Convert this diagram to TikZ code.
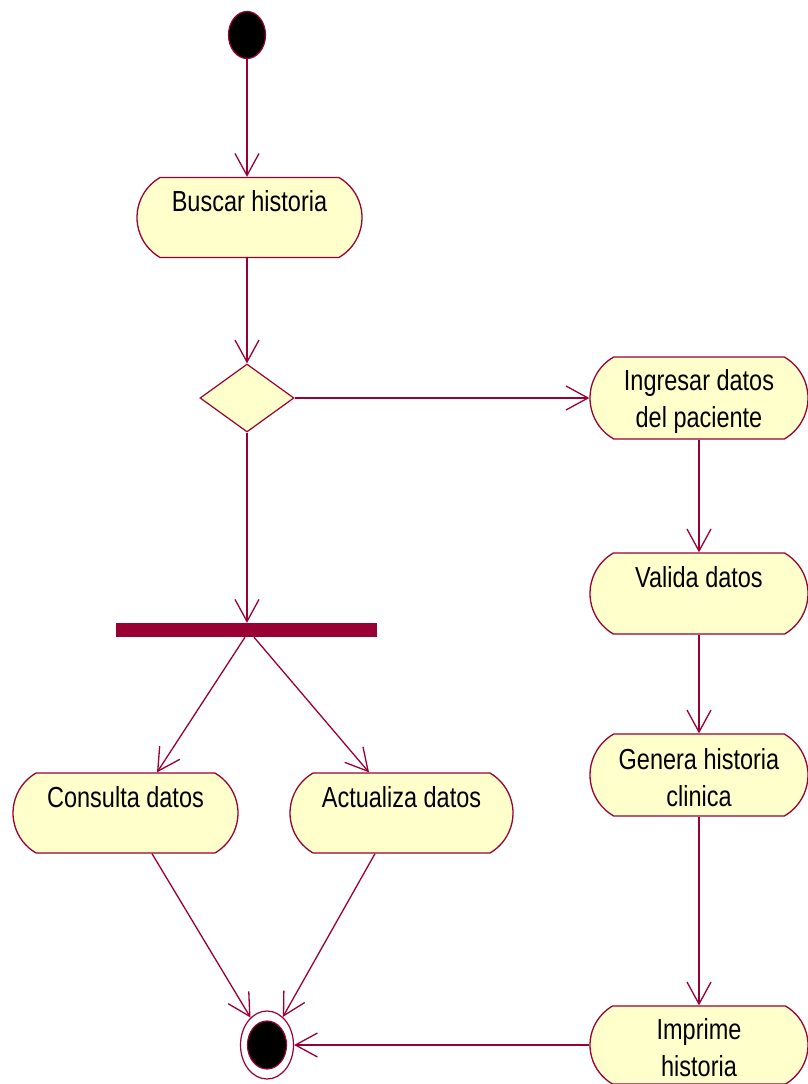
\documentclass[tikz,border=0pt]{standalone}
\usepackage{fontspec}
\setmainfont{Liberation Sans}[FakeStretch=0.81]
\usetikzlibrary{arrows.meta,shapes.geometric,shapes.misc}
\definecolor{crim}{RGB}{153,0,51}
\definecolor{cream}{RGB}{255,255,204}
% line struts that set the two text rows of an activity
\newcommand\toprow{\rule{0pt}{28pt}}
\newcommand\botrow{\rule[-3pt]{0pt}{3pt}}
\begin{document}
\begin{tikzpicture}[x=1pt,y=-1pt,
  act/.style={rounded rectangle, rounded rectangle arc length=120,
    draw=crim, fill=cream, line width=1.3pt,
    minimum width=#1, minimum height=80pt, inner sep=0pt, align=center,
    font=\fontsize{29}{37}\selectfont},
  arr/.style={draw=crim, line width=1.3pt, -{Straight Barb[length=22pt,width=24pt]}},
  bar/.style={fill=crim, draw=none, minimum width=261pt, minimum height=14pt, inner sep=0pt},
  dot/.style={ellipse, fill=black, draw=crim, line width=1.2pt, inner sep=0pt}]
\useasboundingbox (0,0) rectangle (808,1084);

% start and end
\node[dot, minimum width=37pt, minimum height=47pt] (init) at (247,35) {};
\node[ellipse, draw=crim, fill=white, line width=1.2pt, inner sep=0pt,
      minimum width=53pt, minimum height=68pt] (final) at (267,1045) {};
\node[dot, minimum width=39pt, minimum height=48pt] (finaldot) at (final) {};

% activities
\node[act=225pt] (buscar) at (249.5,217.5) {\toprow Buscar historia\\\botrow};
\node[diamond, draw=crim, fill=cream, line width=1.2pt, inner sep=0pt,
      minimum width=94pt, minimum height=68pt] (decision) at (247,398) {};
\node[act=218pt, minimum height=82pt] (ingresar) at (699,398) {\toprow Ingresar datos\\\botrow del paciente};
\node[bar] (fork) at (246.5,630) {};
\node[act=225pt] (consulta) at (125.5,813) {\toprow Consulta datos\\\botrow};
\node[act=223pt] (actualiza) at (401.5,813) {\toprow Actualiza datos\\\botrow};
\node[act=218pt, minimum height=81pt] (valida) at (699,593.5) {\toprow Valida datos\\\botrow};
\node[act=218pt, minimum height=82pt] (genera) at (699,775) {\toprow Genera historia\\\botrow clinica};
\node[act=218pt, minimum height=78pt] (imprime) at (699,1045) {\toprow Imprime\\\botrow historia};

% transitions
\draw[arr] (init) -- (init |- buscar.north);
\draw[arr] (init |- buscar.south) -- (decision.north);
\draw[arr] (decision.east) -- (decision.east -| ingresar.west);
\draw[arr] (decision.south) -- (decision.south |- fork.north);
\draw[arr] ([xshift=-1.5pt]fork.south) -- ([xshift=31.5pt]consulta.north);
\draw[arr] ([xshift=7.5pt]fork.south) -- ([xshift=-32.5pt]actualiza.north);
\draw[arr] (ingresar.south) -- (valida.north);
\draw[arr] (valida.south) -- (genera.north);
\draw[arr] (genera.south) -- (imprime.north);
\draw[arr] ([xshift=26.5pt]consulta.south) -- (final);
\draw[arr] ([xshift=-26.5pt]actualiza.south) -- (final);
\draw[arr] (imprime.west) -- (final.east);
\end{tikzpicture}
\end{document}
